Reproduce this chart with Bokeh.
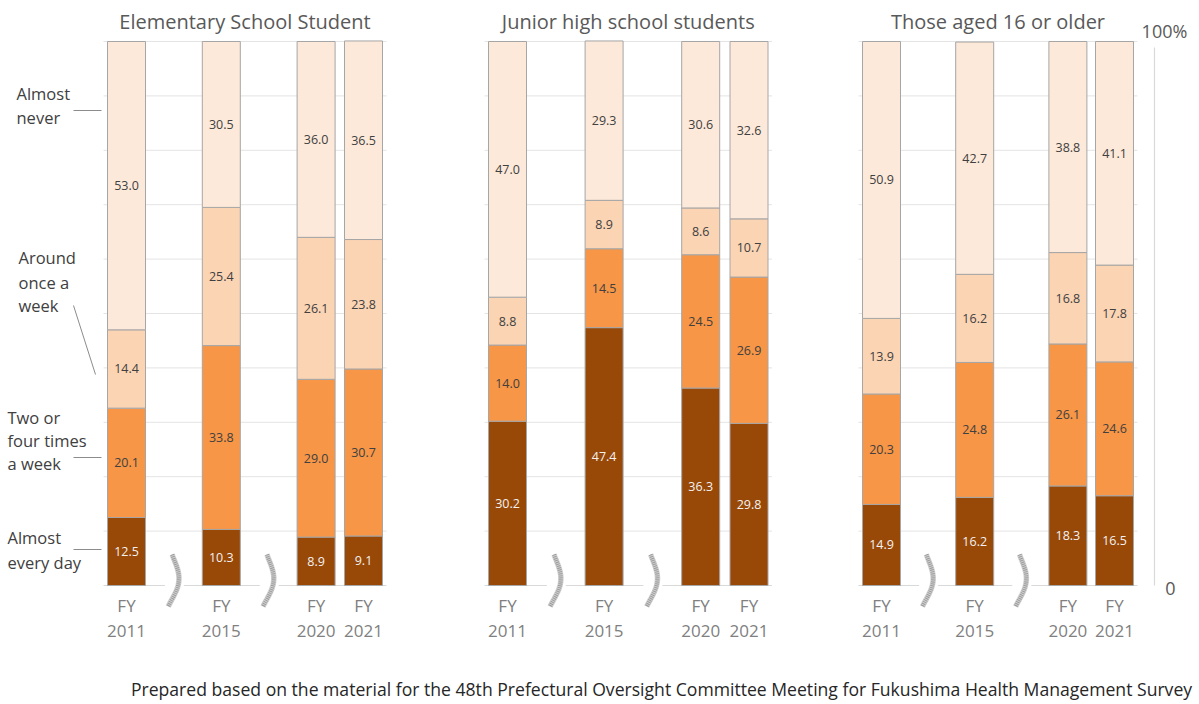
import math
from bokeh.plotting import figure
from bokeh.models import Range1d, ColumnDataSource
from bokeh.embed import file_html
from bokeh.resources import INLINE
from bokeh.core.properties import value

# ---------------- data ----------------
groups = ["Elementary School Student", "Junior high school students", "Those aged 16 or older"]
years = ["2011", "2015", "2020", "2021"]
categories = ["Almost every day", "Two or four times a week", "Around once a week", "Almost never"]

elem_daily = [12.5, 10.3, 8.9, 9.1]
elem_twofour = [20.1, 33.8, 29.0, 30.7]
elem_weekly = [14.4, 25.4, 26.1, 23.8]
elem_never = [53.0, 30.5, 36.0, 36.5]

junior_daily = [30.2, 47.4, 36.3, 29.8]
junior_twofour = [14.0, 14.5, 24.5, 26.9]
junior_weekly = [8.8, 8.9, 8.6, 10.7]
junior_never = [47.0, 29.3, 30.6, 32.6]

adult_daily = [14.9, 16.2, 18.3, 16.5]
adult_twofour = [20.3, 24.8, 26.1, 24.6]
adult_weekly = [13.9, 16.2, 16.8, 17.8]
adult_never = [50.9, 42.7, 38.8, 41.1]

left_labels = [["Almost", "never"], ["Around", "once a", "week"],
               ["Two or", "four times", "a week"], ["Almost", "every day"]]
footnote = "Prepared based on the material for the 48th Prefectural Oversight Committee Meeting for Fukushima Health Management Survey"

series = [
    [elem_daily, elem_twofour, elem_weekly, elem_never],
    [junior_daily, junior_twofour, junior_weekly, junior_never],
    [adult_daily, adult_twofour, adult_weekly, adult_never],
]

# ---------------- layout / style ----------------
W, H = 1196, 700
Y0, PX = 585.0, 5.44      # screen y of 0 %, px per %


def pct(ys):
    return (Y0 - ys) / PX


colors = ["#984807", "#F79646", "#FBD4B4", "#FDE9D9"]
label_colors = ["#F2F2F2", "#404040", "#404040", "#404040"]
group_start = [126.0, 507.0, 881.0]
slot_w = [47.4, 48.3, 46.6]
slots = [0, 2, 4, 5]
bar_w = 38
FONT = "Open Sans"

p = figure(width=W, height=H, x_range=Range1d(0, W), y_range=Range1d(pct(H), pct(0)),
           x_axis_type=None, y_axis_type=None, toolbar_location=None, output_backend="svg",
           min_border=0, outline_line_color=None)
p.background_fill_color = "white"

grid_color = "#E4E4E4"
for g, gname in enumerate(groups):
    xs = [group_start[g] + s * slot_w[g] for s in slots]
    left = xs[0] - bar_w / 2 - 4
    right = xs[-1] + bar_w / 2 + 4
    # gridlines 10..100
    gy = list(range(10, 101, 10))
    p.segment(x0=[left] * len(gy), x1=[right] * len(gy), y0=gy, y1=gy,
              line_color=grid_color, line_width=1)
    # baseline broken by squiggles
    sq = [(xs[0] + xs[1]) / 2, (xs[1] + xs[2]) / 2]
    bx0 = [left, sq[0] + 10, sq[1] + 10]
    bx1 = [sq[0] - 9, sq[1] - 9, right]
    p.segment(x0=bx0, x1=bx1, y0=[0] * 3, y1=[0] * 3, line_color="#D9D9D9", line_width=1.2)

    data = {"x": xs}
    for c, vals in zip(categories, series[g]):
        data[c] = vals
    src = ColumnDataSource(data)
    p.vbar_stack(categories, x="x", width=bar_w, color=colors, source=src,
                 line_color="#A6A6A6", line_width=1)

    # value labels
    for i, x in enumerate(xs):
        base = 0.0
        for k in range(4):
            v = series[g][k][i]
            p.text(x=[x], y=[base + v / 2], text=[f"{v:.1f}"], text_align="center",
                   text_baseline="middle", text_font=value(FONT), text_font_size="12.5px",
                   text_color=label_colors[k])
            base += v

    # squiggles
    for cx in sq:
        n = 40
        ts = [i / (n - 1) for i in range(n)]
        sx = [cx + 1 + 6 * math.sin(math.pi * (1.3 * t - 0.15)) - 4 * t for t in ts]
        sy = [pct(554 + 52 * t) for t in ts]
        p.line(sx, sy, line_color="#D0D0D0", line_width=5.5)
        p.line(sx, sy, line_color="#9A9A9A", line_width=4, line_dash="1 1")

    # title
    p.text(x=[(xs[0] + xs[-1]) / 2], y=[pct(21)], text=[gname], text_align="center",
           text_baseline="middle", text_font=value(FONT), text_font_size="20px",
           text_color="#595959")
    # FY labels
    p.text(x=xs, y=[pct(605)] * 4, text=["FY"] * 4, text_align="center", text_baseline="middle",
           text_font=value(FONT), text_font_size="17px", text_color="#808080")
    p.text(x=xs, y=[pct(630)] * 4, text=years, text_align="center", text_baseline="middle",
           text_font=value(FONT), text_font_size="17px", text_color="#808080")

# left legend labels
lab_x = [16, 18, 7, 7]
lab_y = [[93, 117], [257, 282, 305], [417, 440, 463], [537, 562]]
for lines, lx, lys in zip(left_labels, lab_x, lab_y):
    p.text(x=[lx] * len(lines), y=[pct(v) for v in lys], text=lines, text_align="left",
           text_baseline="middle", text_font=value(FONT), text_font_size="16.5px",
           text_color="#404040")
# leader lines
p.segment(x0=[73, 73, 73, 73], x1=[101, 95, 101, 101],
          y0=[pct(110), pct(305), pct(457), pct(549)],
          y1=[pct(110), pct(374), pct(457), pct(549)],
          line_color="#8C8C8C", line_width=1)

# right axis
p.segment(x0=[1154], x1=[1154], y0=[pct(47)], y1=[0], line_color="#D9D9D9", line_width=1.2)
p.text(x=[1164], y=[pct(30)], text=["100%"], text_align="center", text_baseline="middle",
       text_font=value(FONT), text_font_size="18px", text_color="#595959")
p.text(x=[1170], y=[pct(588)], text=["0"], text_align="center", text_baseline="middle",
       text_font=value(FONT), text_font_size="18px", text_color="#595959")

# footnote
p.text(x=[661], y=[pct(688)], text=[footnote], text_align="center", text_baseline="middle",
       text_font=value(FONT), text_font_size="17.6px", text_color="#262626")

open("out.html", "w").write(file_html(p, INLINE))
